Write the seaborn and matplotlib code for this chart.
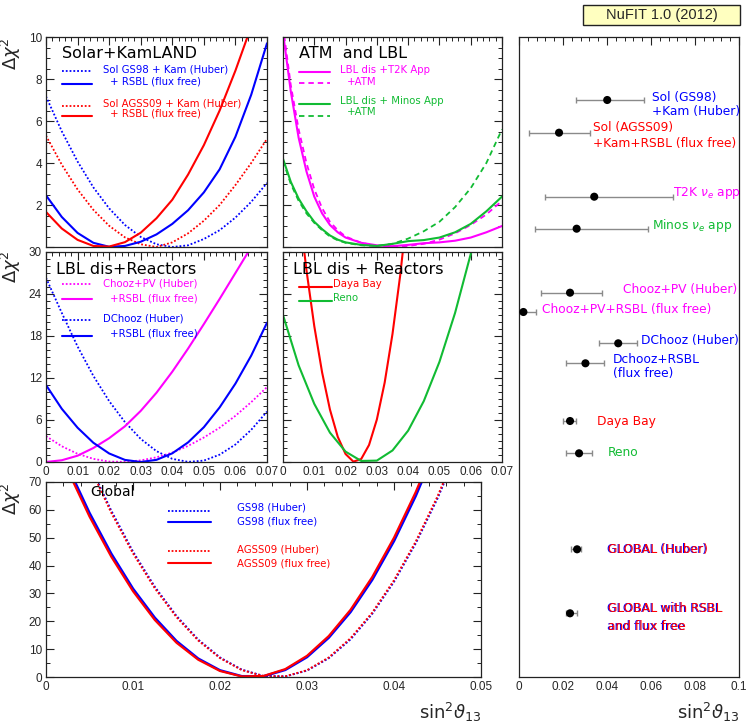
import matplotlib
matplotlib.use("Agg")
import matplotlib.pyplot as plt
import seaborn as sns
from matplotlib.lines import Line2D
from matplotlib.patches import Rectangle
from matplotlib.ticker import MultipleLocator, FuncFormatter

# ---------------- data ----------------
# Solar + KamLAND panel
x_sk = [0, 0.005, 0.01, 0.015, 0.02, 0.025, 0.03, 0.035, 0.04, 0.045, 0.05, 0.055, 0.06, 0.065, 0.07]
sk_gs98_huber = [7.17, 5.51, 4.07, 2.84, 1.84, 1.05, 0.48, 0.13, 0.0, 0.08, 0.38, 0.80, 1.40, 2.15, 3.05]
sk_gs98_free = [2.46, 1.43, 0.67, 0.20, 0.01, 0.05, 0.25, 0.60, 1.10, 1.75, 2.60, 3.70, 5.25, 7.25, 9.70]
sk_agss_huber = [5.3, 3.92, 2.74, 1.77, 1.01, 0.46, 0.13, 0.0, 0.22, 0.65, 1.25, 2.0, 2.95, 4.0, 5.15]
sk_agss_free = [1.67, 0.88, 0.34, 0.05, 0.02, 0.23, 0.68, 1.37, 2.25, 3.45, 4.85, 6.5, 8.4, 10.5, 12.8]

# ATM and LBL panel
x_lbl = [0, 0.0025, 0.005, 0.0075, 0.01, 0.0125, 0.015, 0.0175, 0.02, 0.025, 0.03,
         0.035, 0.04, 0.045, 0.05, 0.055, 0.06, 0.065, 0.07]
t2k = [10.2, 7.4, 5.2, 3.6, 2.4, 1.6, 1.05, 0.7, 0.45, 0.2, 0.08, 0.04, 0.1, 0.18, 0.22, 0.3, 0.45, 0.7, 1.0]
t2k_atm = [10.5, 7.7, 5.6, 4.0, 2.75, 1.85, 1.2, 0.8, 0.5, 0.2, 0.05, 0.02, 0.05, 0.15, 0.35, 0.65, 1.05, 1.55, 2.2]
minos = [4.2, 3.1, 2.3, 1.7, 1.2, 0.85, 0.55, 0.35, 0.22, 0.1, 0.05, 0.15, 0.28, 0.33, 0.45, 0.7, 1.1, 1.7, 2.4]
minos_atm = [4.1, 3.0, 2.2, 1.6, 1.15, 0.8, 0.5, 0.32, 0.2, 0.08, 0.05, 0.15, 0.4, 0.75, 1.2, 1.9, 2.8, 4.0, 5.6]

# LBL dis + Reactors (Chooz/DChooz)
x_re = [0, 0.005, 0.01, 0.015, 0.02, 0.025, 0.03, 0.035, 0.04, 0.045, 0.05, 0.055, 0.06, 0.065, 0.07]
chooz_huber = [3.7, 2.25, 1.17, 0.45, 0.06, 0.02, 0.23, 0.67, 1.34, 2.3, 3.5, 4.9, 6.6, 8.55, 10.7]
chooz_free = [0, 0.25, 0.9, 2.0, 3.4, 5.1, 7.3, 9.9, 12.9, 16.2, 19.7, 23.3, 27.0, 30.7, 34.4]
dchooz_huber = [26.3, 21.3, 16.5, 12.3, 8.7, 5.7, 3.3, 1.55, 0.45, 0.02, 0.2, 1.05, 2.5, 4.6, 7.2]
dchooz_free = [11.0, 7.6, 4.9, 2.75, 1.22, 0.3, 0.0, 0.31, 1.24, 2.8, 4.97, 7.8, 11.2, 15.2, 19.9]

# LBL dis + Reactors (Daya Bay / Reno)
x_db = [0, 0.0025, 0.005, 0.0075, 0.01, 0.0125, 0.015, 0.0175, 0.02, 0.0225, 0.025,
        0.0275, 0.03, 0.0325, 0.035, 0.0375, 0.04, 0.0425]
dayabay = [59.8, 47.6, 36.8, 27.4, 19.4, 12.8, 7.5, 3.6, 1.14, 0.05, 0.43, 2.43, 6.07, 11.35, 18.3, 26.8, 37.1, 48.9]
x_reno = [0, 0.005, 0.01, 0.015, 0.02, 0.025, 0.03, 0.035, 0.04, 0.045, 0.05, 0.055, 0.06, 0.065]
reno = [21.0, 13.8, 8.3, 4.2, 1.48, 0.15, 0.2, 1.65, 4.48, 8.7, 14.3, 21.3, 29.7, 39.6]

# Global
x_gl = [0, 0.0025, 0.005, 0.0075, 0.01, 0.0125, 0.015, 0.0175, 0.02, 0.0225, 0.025,
        0.0275, 0.03, 0.0325, 0.035, 0.0375, 0.04, 0.0425, 0.045, 0.0475, 0.05]
gl_gs98_huber = [116, 95.2, 76.4, 59.7, 45.0, 32.4, 21.9, 13.4, 7.0, 2.64, 0.37, 0.19, 2.3, 6.75, 13.5, 22.7, 34.2, 48.0, 64.1, 82.6, 103.5]
gl_gs98_free = [94.4, 75.6, 58.9, 44.3, 31.7, 21.3, 12.9, 6.6, 2.4, 0.28, 0.27, 2.54, 7.14, 14.1, 23.3, 34.9, 48.8, 65.0, 83.5, 104, 127]
gl_agss_huber = [115.2, 94.4, 75.7, 59.0, 44.4, 31.9, 21.5, 13.1, 6.8, 2.5, 0.32, 0.23, 2.43, 7.0, 13.9, 23.1, 34.7, 48.6, 64.8, 83.4, 104.4]
gl_agss_free = [92.8, 74.2, 57.6, 43.2, 30.8, 20.5, 12.3, 6.2, 2.16, 0.2, 0.36, 2.83, 7.6, 14.7, 24.1, 35.9, 50.0, 66.4, 85.1, 105.8, 129.5]

# Summary panel: best fit and 1 sigma range of sin^2 theta13
sum_labels = ["Sol (GS98)\n+Kam (Huber)", "Sol (AGSS09)\n+Kam+RSBL (flux free)",
              "T2K $\\nu_e$ app", "Minos $\\nu_e$ app", "Chooz+PV (Huber)",
              "Chooz+PV+RSBL (flux free)", "DChooz (Huber)", "Dchooz+RSBL\n(flux free)",
              "Daya Bay", "Reno", "GLOBAL (Huber)", "GLOBAL with RSBL\nand flux free"]
sum_best = [0.0401, 0.0182, 0.0342, 0.0262, 0.0232, 0.0020, 0.0451, 0.0302, 0.0232, 0.0273, 0.0264, 0.0232]
sum_lo = [0.026, 0.0045, 0.0118, 0.0074, 0.0099, 0.0, 0.0364, 0.0212, 0.0199, 0.0214, 0.0235, 0.0214]
sum_hi = [0.057, 0.0323, 0.0701, 0.0586, 0.0379, 0.0077, 0.0535, 0.0388, 0.0259, 0.0333, 0.0283, 0.0262]

# ---------------- layout / style ----------------
BLUE, RED, MAG, GRN = "#0000ff", "#ff0000", "#ff00ff", "#11bb33"
sum_colors = [BLUE, RED, MAG, GRN, MAG, MAG, BLUE, BLUE, RED, GRN, "global", "global"]
# row positions (pixel rows of the figure) and label anchors (pixel coordinates)
sum_rows = [100, 132.7, 196.7, 228.7, 292.7, 312, 343.3, 363.3, 421, 453.3, 549.3, 613.3]
sum_text_pos = [(651.7, 90.5), (592.7, 121.5), (673.3, 193.3), (651.7, 226), (623.3, 289.3),
                (541.7, 309.3), (641, 340.7), (612.7, 353), (596.7, 421), (607.7, 452.7),
                (607.7, 549.3), (607.7, 602)]
sum_spacing = [1.1, 1.2, 1, 1, 1, 1, 1, 1.15, 1, 1, 1, 1.5]

sns.set_style("white")
plt.rcParams["font.family"] = ["DejaVu Sans"]
plt.rcParams["mathtext.fontset"] = "dejavusans"

W, H = 747, 725
fig = plt.figure(figsize=(W / 100, H / 100), dpi=100)


def fx(x):
    return x / W


def fy(y):
    return 1 - y / H


def axes_px(l, t, r, b):
    return fig.add_axes([l / W, 1 - b / H, (r - l) / W, (b - t) / H])


fmt = FuncFormatter(lambda v, _: "0" if abs(v) < 1e-12 else f"{v:g}")
fmt_nozero = FuncFormatter(lambda v, _: "" if abs(v) < 1e-12 else f"{v:g}")


def style_axes(ax, xlim, ylim, xmaj, xmin, ymaj, ymin, xlab=True, ylab=True, yticks=True):
    ax.set_xlim(*xlim)
    ax.set_ylim(*ylim)
    ax.xaxis.set_major_locator(MultipleLocator(xmaj))
    ax.xaxis.set_minor_locator(MultipleLocator(xmin))
    if yticks:
        ax.yaxis.set_major_locator(MultipleLocator(ymaj))
        ax.yaxis.set_minor_locator(MultipleLocator(ymin))
    else:
        ax.set_yticks([])
    ax.xaxis.set_major_formatter(fmt)
    ax.yaxis.set_major_formatter(fmt)
    ax.tick_params(which="both", direction="in", top=True, right=yticks, left=yticks,
                   labelsize=8.5, labelfontfamily="Liberation Sans", color="#222222")
    ax.tick_params(which="major", length=6, width=0.8)
    ax.tick_params(which="minor", length=3, width=0.7)
    ax.tick_params(axis="x", pad=3)
    ax.tick_params(axis="y", pad=3)
    ax.tick_params(labelbottom=xlab, labelleft=ylab and yticks)
    ax.set_xlabel("")
    ax.set_ylabel("")
    for s in ax.spines.values():
        s.set_linewidth(0.9)
        s.set_color("#222222")


def curve(ax, x, y, color, ls="-", lw=1.5):
    sns.lineplot(x=x, y=y, ax=ax, color=color, linestyle=ls, linewidth=lw,
                 sort=False, estimator=None, legend=False)


def key(x0, x1, y, color, ls, lw):
    fig.add_artist(Line2D([fx(x0), fx(x1)], [fy(y), fy(y)], color=color, ls=ls, lw=lw))


def txt(x, y, s, color="black", size=7.3, ha="left", va="center", **kw):
    fig.text(fx(x), fy(y), s, color=color, fontsize=size, ha=ha, va=va, **kw)


DOT = (0, (1, 1.1))
DASH = (0, (3, 2.2))

# Panel 1: Solar + KamLAND
ax1 = axes_px(46, 37, 267, 247)
curve(ax1, x_sk, sk_gs98_huber, BLUE, DOT, 1.3)
curve(ax1, x_sk, sk_agss_huber, RED, DOT, 1.3)
curve(ax1, x_sk, sk_gs98_free, BLUE)
curve(ax1, x_sk, sk_agss_free, RED)
style_axes(ax1, (0, 0.07), (0, 10), 0.01, 0.002, 2, 0.5, xlab=False)
ax1.yaxis.set_major_formatter(fmt_nozero)
txt(62, 53, "Solar+KamLAND", size=11.5)
key(62, 92, 71, BLUE, DOT, 1.3); txt(103, 70, "Sol GS98 + Kam (Huber)", BLUE)
key(62, 92, 84, BLUE, "-", 1.5); txt(110, 82, "+ RSBL (flux free)", BLUE)
key(62, 92, 106, RED, DOT, 1.3); txt(103, 103, "Sol AGSS09 + Kam (Huber)", RED)
key(62, 92, 116, RED, "-", 1.5); txt(110, 113, "+ RSBL (flux free)", RED)

# Panel 2: ATM and LBL
ax2 = axes_px(283, 37, 502, 247)
curve(ax2, x_lbl, t2k, MAG)
curve(ax2, x_lbl, t2k_atm, MAG, DASH, 1.3)
curve(ax2, x_lbl, minos, GRN)
curve(ax2, x_lbl, minos_atm, GRN, DASH, 1.3)
style_axes(ax2, (0, 0.07), (0, 10), 0.01, 0.002, 2, 0.5, xlab=False, ylab=False)
txt(299, 53, "ATM  and LBL", size=11.5)
key(299, 330, 72, MAG, "-", 1.5); txt(340, 70, "LBL dis +T2K App", MAG)
key(299, 330, 83, MAG, DASH, 1.3); txt(347, 82, "+ATM", MAG)
key(299, 330, 104, GRN, "-", 1.5); txt(340, 101, "LBL dis + Minos App", GRN)
key(299, 330, 116, GRN, DASH, 1.3); txt(347, 112, "+ATM", GRN)

# Panel 3: LBL dis + Reactors (Chooz, DChooz)
ax3 = axes_px(46, 252, 267, 462)
curve(ax3, x_re, chooz_huber, MAG, DOT, 1.3)
curve(ax3, x_re, dchooz_huber, BLUE, DOT, 1.3)
curve(ax3, x_re, chooz_free, MAG)
curve(ax3, x_re, dchooz_free, BLUE)
style_axes(ax3, (0, 0.07), (0, 30), 0.01, 0.002, 6, 1)
txt(56, 269, "LBL dis+Reactors", size=11.5)
key(62, 92, 284, MAG, DOT, 1.3); txt(103, 283, "Chooz+PV (Huber)", MAG)
key(62, 92, 299, MAG, "-", 1.5); txt(110, 298, "+RSBL (flux free)", MAG)
key(62, 92, 320, BLUE, DOT, 1.3); txt(103, 319, "DChooz (Huber)", BLUE)
key(62, 92, 336, BLUE, "-", 1.5); txt(110, 334, "+RSBL (flux free)", BLUE)

# Panel 4: LBL dis + Reactors (Daya Bay, Reno)
ax4 = axes_px(283, 252, 502, 462)
curve(ax4, x_db, dayabay, RED)
curve(ax4, x_reno, reno, GRN)
style_axes(ax4, (0, 0.07), (0, 30), 0.01, 0.002, 6, 1, ylab=False)
txt(293, 269, "LBL dis + Reactors", size=11.5)
key(299, 332, 287, RED, "-", 1.5); txt(333, 284, "Daya Bay", RED)
key(299, 332, 301, GRN, "-", 1.5); txt(333, 298, "Reno", GRN)

# Global panel
ax5 = axes_px(46, 482, 481, 677)
curve(ax5, x_gl, gl_gs98_huber, BLUE, (0, (1, 1)), 1.4)
curve(ax5, x_gl, gl_agss_huber, RED, (1, (1, 1)), 1.4)
curve(ax5, x_gl, gl_gs98_free, BLUE, "-", 1.8)
curve(ax5, x_gl, gl_agss_free, RED, "-", 1.6)
style_axes(ax5, (0, 0.05), (0, 70), 0.01, 0.002, 10, 5)
txt(90, 492, "Global", size=10)
key(168, 211, 511, BLUE, (0, (1, 1)), 1.3); txt(237, 507, "GS98 (Huber)", BLUE)
key(168, 211, 522, BLUE, "-", 1.5); txt(237, 522, "GS98 (flux free)", BLUE)
key(168, 211, 551, RED, (0, (1, 1)), 1.3); txt(237, 549, "AGSS09 (Huber)", RED)
key(168, 211, 563, RED, "-", 1.5); txt(237, 563, "AGSS09 (flux free)", RED)

# Summary panel
ax6 = axes_px(519, 37, 739, 677)
xerr = [[b - l for b, l in zip(sum_best, sum_lo)], [h - b for b, h in zip(sum_best, sum_hi)]]
ax6.errorbar(sum_best, sum_rows, xerr=xerr, fmt="none", ecolor="#8a8a8a",
             elinewidth=1.0, capsize=2.2, capthick=1.0, zorder=2)
sns.scatterplot(x=sum_best, y=sum_rows, ax=ax6, color="black", s=34,
                edgecolor="none", zorder=3, legend=False)
style_axes(ax6, (0, 0.1), (677, 37), 0.02, 0.004, 1, 1, yticks=False)
for lab, col, (tx, ty), sp in zip(sum_labels, sum_colors, sum_text_pos, sum_spacing):
    n = lab.count("\n") + 1
    va = "top" if n > 1 else "center"
    if col == "global":
        for off, c in ((-1.0, BLUE), (0.0, RED)):
            fig.text(fx(tx + off), fy(ty), lab, color=c, fontsize=8.8, ha="left",
                     va=va, linespacing=sp)
    else:
        fig.text(fx(tx), fy(ty), lab, color=col, fontsize=8.8, ha="left",
                 va=va, linespacing=sp)

# axis titles
for top in (37, 250, 482):
    fig.text(fx(11), fy(top), r"$\Delta\chi^2$", rotation=90, ha="center", va="top", fontsize=13)
fig.text(fx(482), fy(712), r"sin$^2\vartheta_{13}$", ha="right", va="center", fontsize=13)
fig.text(fx(740), fy(712), r"sin$^2\vartheta_{13}$", ha="right", va="center", fontsize=13)

# title box
fig.add_artist(Rectangle((fx(583), fy(25)), (740 - 583) / W, 20 / H, transform=fig.transFigure,
                         facecolor="#ffffc0", edgecolor="#222222", lw=1.0))
fig.text(fx(661.5), fy(15), "NuFIT 1.0 (2012)", ha="center", va="center",
         fontsize=10.5, family="Liberation Sans")

fig.savefig("out.png", dpi=100)
